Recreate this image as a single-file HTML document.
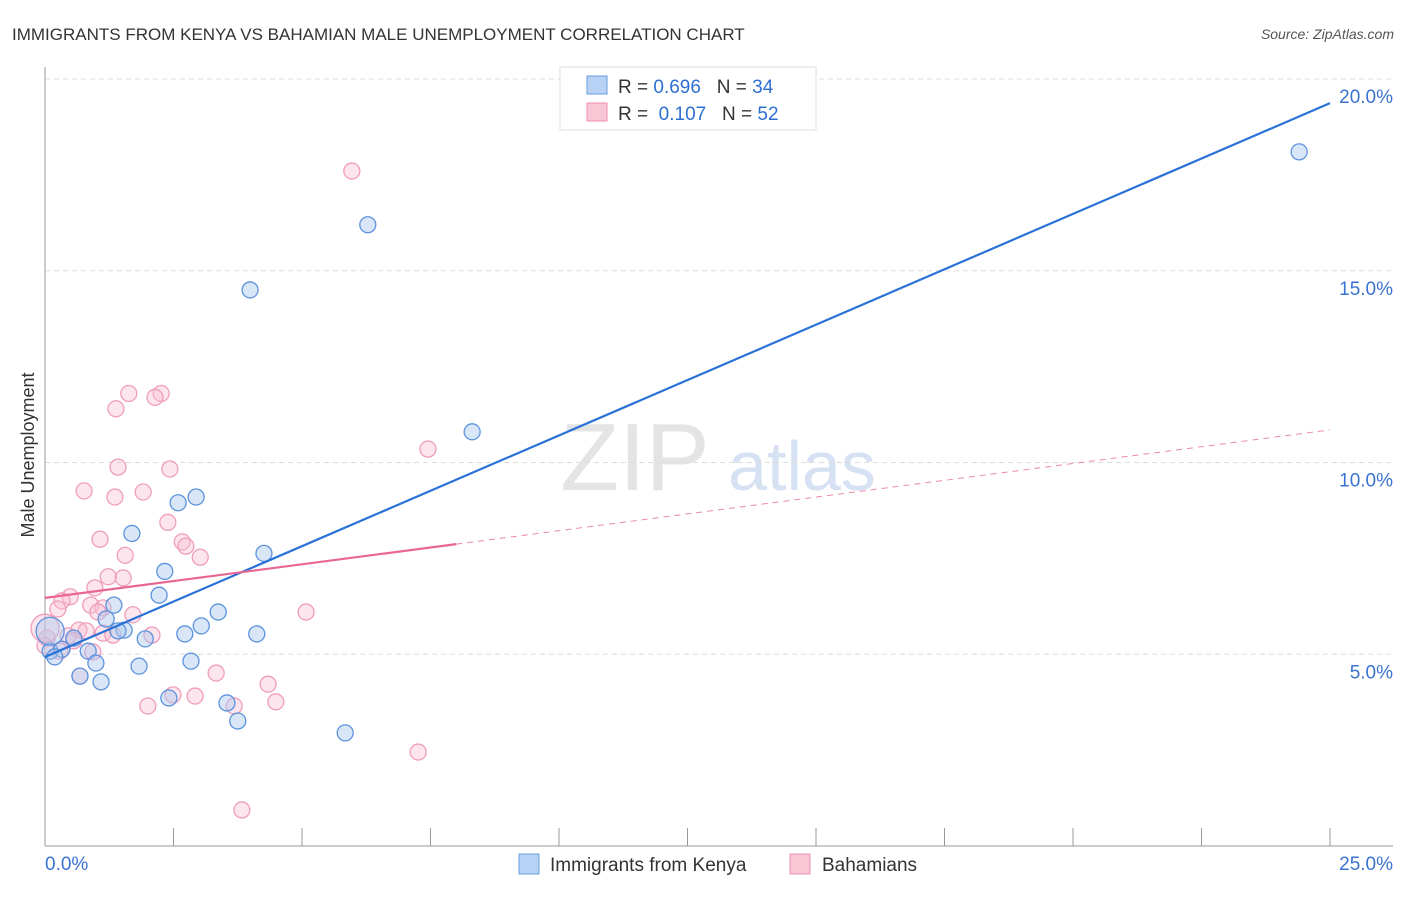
<!DOCTYPE html>
<html><head><meta charset="utf-8"><style>
body{margin:0;background:#fff;font-family:"Liberation Sans",sans-serif;}
svg text{font-family:"Liberation Sans",sans-serif;}
</style></head><body>
<svg width="1406" height="892" id="chart">
<text x="12" y="40" font-size="17" fill="#333">IMMIGRANTS FROM KENYA VS BAHAMIAN MALE UNEMPLOYMENT CORRELATION CHART</text>
<text x="1394" y="39" font-size="14" fill="#555" font-style="italic" text-anchor="end">Source: ZipAtlas.com</text>
<text x="635" y="490" font-size="96" fill="#e4e4e4" font-family="Liberation Serif" text-anchor="middle">ZIP</text>
<text x="802" y="490" font-size="70" fill="#d6e2f3" text-anchor="middle">atlas</text>
<g id="grid"></g><g id="axes"></g><g id="pts"></g><g id="lines"></g>
<text x="34" y="455" font-size="18" fill="#333" text-anchor="middle" transform="rotate(-90 34 455)">Male Unemployment</text>
<g>
<rect x="560" y="67" width="256" height="63" fill="#fff" stroke="#ddd"/>
<rect x="587" y="76" width="20" height="18" fill="#b8d2f5" stroke="#6a9de0"/>
<rect x="587" y="103" width="20" height="18" fill="#f9c6d6" stroke="#ec8fae"/>
<text x="618" y="93" font-size="19" fill="#333">R = <tspan fill="#2d6fd1">0.696</tspan>&#160;&#160;&#160;N = <tspan fill="#2d6fd1">34</tspan></text>
<text x="618" y="120" font-size="19" fill="#333">R = &#160;<tspan fill="#2d6fd1">0.107</tspan>&#160;&#160;&#160;N = <tspan fill="#2d6fd1">52</tspan></text>
</g>
<g>
<rect x="519" y="854" width="20" height="20" fill="#b8d2f5" stroke="#6a9de0"/>
<text x="550" y="871" font-size="19" fill="#333">Immigrants from Kenya</text>
<rect x="790" y="854" width="20" height="20" fill="#f9c6d6" stroke="#ec8fae"/>
<text x="822" y="871" font-size="19" fill="#333">Bahamians</text>
</g>
</svg>
<script>
const yTicks=[5,10,15,20];
const yTickLabels=["5.0%","10.0%","15.0%","20.0%"];
const xTicks=[0,2.5,5,7.5,10,12.5,15,17.5,20,22.5,25];
const kenyaX=[24.4,6.28,3.99,8.31,2.94,2.59,1.69,4.26,2.33,2.22,1.34,3.37,1.19,1.54,1.42,3.04,2.72,4.12,1.95,0.56,0.1,0.33,0.84,0.19,0.99,2.84,1.83,0.68,1.09,2.41,3.54,3.75,5.84,0.1];
const kenyaY=[18.1,16.2,14.5,10.8,9.1,8.95,8.15,7.63,7.16,6.54,6.28,6.1,5.92,5.63,5.61,5.74,5.53,5.53,5.4,5.42,5.08,5.13,5.08,4.93,4.77,4.82,4.69,4.43,4.28,3.86,3.73,3.26,2.95,5.6];
const bahX=[5.97,2.26,1.63,2.14,1.38,7.45,1.42,2.43,0.76,1.91,1.36,2.39,1.07,2.67,2.74,1.56,3.02,1.52,1.23,0.97,0.49,0.33,0.89,1.13,1.03,0.25,1.71,5.08,0.66,1.13,0.8,2.08,1.32,0.04,0.45,0.56,0,0.29,0.93,3.33,0.68,2.49,2.92,4.34,2.0,3.68,4.49,7.26,3.83,0];
const bahY=[17.6,11.8,11.8,11.7,11.4,10.35,9.88,9.83,9.26,9.23,9.1,8.44,8.0,7.93,7.82,7.58,7.53,6.99,7.02,6.73,6.5,6.39,6.28,6.21,6.1,6.18,6.03,6.1,5.63,5.55,5.61,5.5,5.5,5.42,5.48,5.35,5.22,5.08,5.06,4.51,4.43,3.94,3.91,4.22,3.65,3.65,3.76,2.45,0.94,5.68];
const kenyaFit=[4.93,19.37];
const bahFit=[6.47,10.85];
const bahSolidEnd=8.0;
const X=v=>45+v*51.4, Y=v=>846-v*38.35;
const NS="http://www.w3.org/2000/svg";
function mk(t,a,p){const e=document.createElementNS(NS,t);for(const k in a)e.setAttribute(k,a[k]);document.getElementById(p).appendChild(e);return e;}
yTicks.forEach((v,i)=>{
 const l=mk('line',{x1:45,x2:1393,y1:Y(v),y2:Y(v),stroke:'#ddd','stroke-dasharray':'5,4'},'grid');
 
 
 const t=mk('text',{x:1393,y:Y(v)+24,'font-size':19,fill:'#3b73d0','text-anchor':'end'},'grid');
 t.textContent=yTickLabels[i];
 
 
});
const topGrid=mk('line',{x1:45,x2:1393,y1:79,y2:79,stroke:'#ddd','stroke-dasharray':'5,4'},'grid');


const ya=mk('line',{x1:45,x2:45,y1:67,y2:846,stroke:'#999'},'axes');


const xa=mk('line',{x1:45,x2:1393,y1:846,y2:846,stroke:'#999'},'axes');


xTicks.forEach(v=>{const l=mk('line',{x1:X(v),x2:X(v),y1:828,y2:846,stroke:'#999'},'axes');
 
 });
const x0=mk('text',{x:45,y:870,'font-size':19,fill:'#3b73d0'},'axes');x0.textContent='0.0%';


const x1=mk('text',{x:1393,y:870,'font-size':19,fill:'#3b73d0','text-anchor':'end'},'axes');x1.textContent='25.0%';


bahX.forEach((v,i)=>{const c=mk('circle',{cx:X(v),cy:Y(bahY[i]),r:i==bahX.length-1?14:8,fill:'rgba(249,190,210,0.4)',stroke:'#ef9dba','stroke-width':1.3},'pts');
 
 });
kenyaX.forEach((v,i)=>{const c=mk('circle',{cx:X(v),cy:Y(kenyaY[i]),r:i==kenyaX.length-1?14:8,fill:'rgba(170,200,240,0.45)',stroke:'#5c93dc','stroke-width':1.3},'pts');
 
 });
const bs=bahFit[0]+(bahFit[1]-bahFit[0])*bahSolidEnd/25;
const l1=mk('line',{x1:X(0),y1:Y(kenyaFit[0]),x2:X(25),y2:Y(kenyaFit[1]),stroke:'#2a72d6','stroke-width':2.2},'lines');


const l2=mk('line',{x1:X(0),y1:Y(bahFit[0]),x2:X(bahSolidEnd),y2:Y(bs),stroke:'#e86792','stroke-width':2.2},'lines');


const l3=mk('line',{x1:X(bahSolidEnd),y1:Y(bs),x2:X(25),y2:Y(bahFit[1]),stroke:'#eb8aab','stroke-width':1,'stroke-dasharray':'6,5'},'lines');


</script>
</body></html>
